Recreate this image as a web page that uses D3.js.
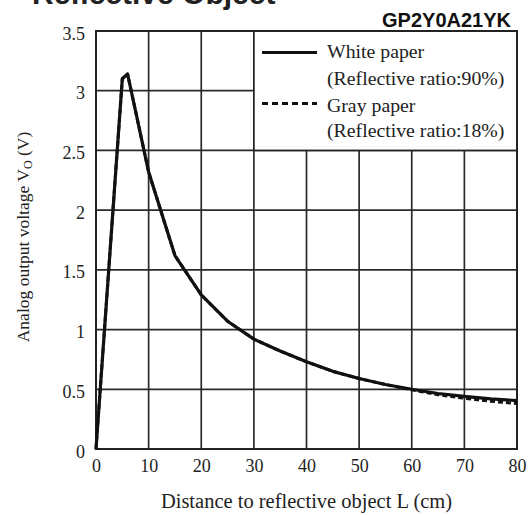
<!DOCTYPE html>
<html><head><meta charset="utf-8">
<script src="https://cdn.jsdelivr.net/npm/d3@7"></script>
<style>html,body{margin:0;padding:0;background:#fff;}svg{display:block;}</style>
</head><body>
<script>
// ---- data ----
const whiteX = [0, 5, 6, 10, 15, 20, 25, 30, 35, 40, 45, 50, 55, 60, 65, 70, 75, 80];
const whiteY = [0, 3.10, 3.14, 2.32, 1.62, 1.29, 1.07, 0.92, 0.82, 0.73, 0.65, 0.59, 0.54, 0.50, 0.465, 0.44, 0.42, 0.405];
const grayX  = [0, 5, 6, 10, 15, 20, 25, 30, 35, 40, 45, 50, 55, 60, 65, 70, 75, 80];
const grayY  = [0, 3.10, 3.14, 2.32, 1.62, 1.29, 1.07, 0.92, 0.82, 0.73, 0.65, 0.59, 0.54, 0.495, 0.455, 0.425, 0.40, 0.38];
const xTicks = [0, 10, 20, 30, 40, 50, 60, 70, 80];
const yTicks = [0, 0.5, 1, 1.5, 2, 2.5, 3, 3.5];
const yTickLabels = ["0", "0.5", "1", "1.5", "2", "2.5", "3", "3.5"];
const legendLabels = [["White paper", "(Reflective ratio:90%)"], ["Gray paper", "(Reflective ratio:18%)"]];

const W = 528, H = 515;
const m = {left: 96, right: 11, top: 31, bottom: 66};
const svg = d3.select("body").append("svg").attr("width", W).attr("height", H);
const x = d3.scaleLinear().domain([0, 80]).range([m.left, W - m.right]);
const y = d3.scaleLinear().domain([0, 3.5]).range([H - m.bottom, m.top]);
const serif = "'Liberation Serif','Times New Roman',serif";
const sans = "'Liberation Sans',Arial,sans-serif";

// titles
svg.append("text").attr("x", 32).attr("y", 4).attr("font-family", sans).attr("font-weight", "bold")
  .attr("font-size", 30).attr("fill", "#222").text("Reflective Object");
svg.append("text").attr("x", 511).attr("y", 27).attr("text-anchor", "end").attr("font-family", sans)
  .attr("font-weight", "bold").attr("font-size", 20).attr("fill", "#111").text("GP2Y0A21YK");

// grid
const g = svg.append("g");
g.selectAll("line.vx").data(xTicks).join("line")
  .attr("x1", d => x(d)).attr("x2", d => x(d)).attr("y1", y(0)).attr("y2", y(3.5))
  .attr("stroke", "#2a2a2a").attr("stroke-width", 1.7);
g.selectAll("line.hy").data(yTicks).join("line")
  .attr("y1", d => y(d)).attr("y2", d => y(d)).attr("x1", x(0)).attr("x2", x(80))
  .attr("stroke", "#2a2a2a").attr("stroke-width", 1.7);

// legend box (covers grid)
svg.append("rect").attr("x", x(30)).attr("y", y(3.5)).attr("width", x(80) - x(30)).attr("height", y(2.5) - y(3.5))
  .attr("fill", "#fff").attr("stroke", "#222").attr("stroke-width", 1.7);

// frame
svg.append("rect").attr("x", x(0)).attr("y", y(3.5)).attr("width", x(80) - x(0)).attr("height", y(0) - y(3.5))
  .attr("fill", "none").attr("stroke", "#222").attr("stroke-width", 2);

// axes labels
const xAxis = d3.axisBottom(x).tickValues(xTicks).tickSize(0).tickPadding(0).tickFormat(d3.format("d"));
const ax = svg.append("g").attr("transform", `translate(0,${y(0)})`).call(xAxis);
ax.select(".domain").remove();
ax.selectAll("text").attr("font-family", serif).attr("font-size", 18).attr("fill", "#222").attr("dy", null).attr("y", 23);

const yAxis = d3.axisLeft(y).tickValues(yTicks).tickSize(0).tickPadding(0).tickFormat((d, i) => yTickLabels[i]);
const ay = svg.append("g").attr("transform", `translate(${x(0) - 11},0)`).call(yAxis);
ay.select(".domain").remove();
ay.selectAll("text").attr("font-family", serif).attr("font-size", 18).attr("fill", "#222").attr("dy", "0.45em").attr("x", 0);

svg.append("text").attr("x", (x(0) + x(80)) / 2).attr("y", 508).attr("text-anchor", "middle")
  .attr("font-family", serif).attr("font-size", 20.5).attr("fill", "#222").text("Distance to reflective object L (cm)");
const yl = svg.append("text").attr("transform", `translate(29,${(y(0) + y(3.5)) / 2 - 3}) rotate(-90)`)
  .attr("text-anchor", "middle").attr("font-family", serif).attr("font-size", 17.5).attr("fill", "#222");
yl.append("tspan").text("Analog output voltage V");
yl.append("tspan").attr("font-size", 12).attr("dy", 3).text("O");
yl.append("tspan").attr("dy", -3).text(" (V)");

// curves
const line = d3.line().x(d => x(d[0])).y(d => y(d[1]));
svg.append("path").datum(grayX.map((v, i) => [v, grayY[i]])).attr("d", line)
  .attr("fill", "none").attr("stroke", "#111").attr("stroke-width", 3).attr("stroke-dasharray", "5,3").attr("stroke-linejoin", "round");
svg.append("path").datum(whiteX.map((v, i) => [v, whiteY[i]])).attr("d", line)
  .attr("fill", "none").attr("stroke", "#111").attr("stroke-width", 3.2).attr("stroke-linejoin", "round");

// legend
const lg = svg.append("g");
const ly = [52.5, 103.5];
lg.append("line").attr("x1", 262).attr("x2", 317).attr("y1", ly[0]).attr("y2", ly[0]).attr("stroke", "#111").attr("stroke-width", 3);
lg.append("line").attr("x1", 262).attr("x2", 317).attr("y1", ly[1]).attr("y2", ly[1]).attr("stroke", "#111").attr("stroke-width", 3).attr("stroke-dasharray", "6,4");
const base = [58, 84.5, 111.5, 136.5];
[legendLabels[0][0], legendLabels[0][1], legendLabels[1][0], legendLabels[1][1]].forEach((t, i) => {
  lg.append("text").attr("x", 327).attr("y", base[i]).attr("font-family", serif).attr("font-size", 19.8)
    .attr("fill", "#222").text(t);
});
</script>
</body></html>
